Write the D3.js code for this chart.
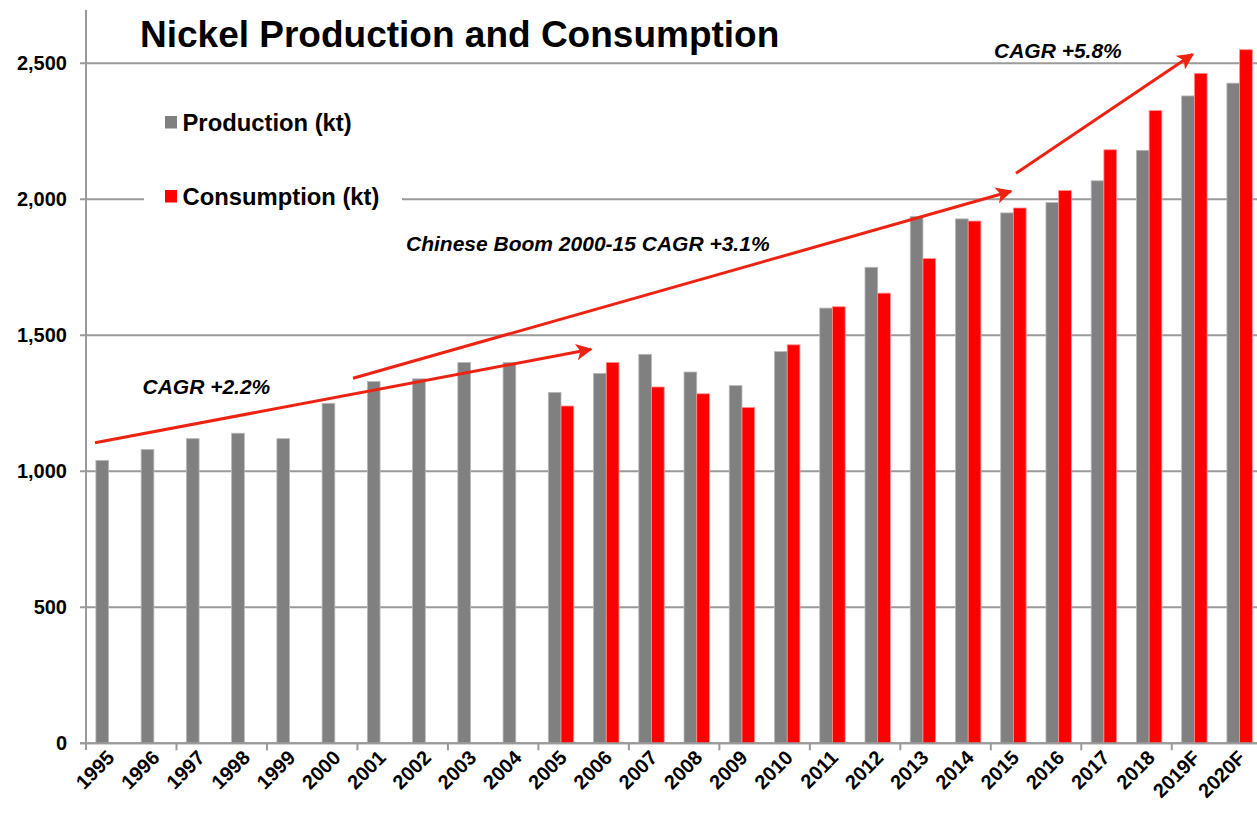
<!DOCTYPE html>
<html>
<head>
<meta charset="utf-8">
<script src="https://cdn.jsdelivr.net/npm/d3@7"></script>
<style>
  body { margin: 0; background: #fff; }
  svg { display: block; font-family: "Liberation Sans", Arial, sans-serif; }
</style>
</head>
<body>
<svg width="1257" height="813"></svg>
<script>
(function() {

var years = ["1995", "1996", "1997", "1998", "1999", "2000", "2001", "2002", "2003", "2004",
    "2005", "2006", "2007", "2008", "2009", "2010", "2011", "2012", "2013", "2014",
    "2015", "2016", "2017", "2018", "2019F", "2020F"];

var production = [1040, 1080, 1120, 1140, 1120, 1250, 1330, 1340, 1400, 1400,
    1290, 1360, 1430, 1365, 1315, 1440, 1600, 1750, 1937, 1928,
    1950, 1988, 2068, 2180, 2380, 2427];

var consumption = [null, null, null, null, null, null, null, null, null, null,
    1240, 1400, 1310, 1285, 1235, 1465, 1605, 1655, 1782, 1920,
    1968, 2032, 2182, 2326, 2463, 2550];

var yTicks = [0, 500, 1000, 1500, 2000, 2500];

var series = ["prod", "cons"];
var colors = {prod: "#808080", cons: "#ff0000"};
var strokes = {prod: "#b8b8b8", cons: "#ff9090"};

// trend arrows, pixel positions
var arrows = [
    {x1: 95, y1: 442.7, x2: 591, y2: 349.3},
    {x1: 353, y1: 378.3, x2: 1011, y2: 191.3},
    {x1: 1016, y1: 173.3, x2: 1192.7, y2: 54.3}
];

var svg = d3.select("svg");

var x = d3.scaleBand().domain(years).range([86, 86 + 26 * 45.24]).padding(0);
var x1 = d3.scaleBand().domain(series).range([0, x.bandwidth()]).paddingInner(0).paddingOuter(0.78);
var y = d3.scaleLinear().domain([0, 2500]).range([743.3, 63.3]);

// gridlines
svg.append("g").selectAll("line")
    .data(yTicks)
    .enter()
    .append("line")
    .attr("x1", 80)
    .attr("x2", 1257)
    .attr("y1", function(d) { return y(d); })
    .attr("y2", function(d) { return y(d); })
    .attr("stroke", "#9a9a9a")
    .attr("stroke-width", 2);

// y labels
svg.append("g").selectAll("text")
    .data(yTicks)
    .enter()
    .append("text")
    .attr("x", 67)
    .attr("y", function(d) { return y(d) + 7; })
    .attr("text-anchor", "end")
    .style("font-size", "20px")
    .style("font-weight", "bold")
    .text(function(d) { return d3.format(",")(d); });

// bars
var rows = years.map(function(yr, i) {
    return {year: yr, prod: production[i], cons: consumption[i]};
});

var groups = svg.append("g").selectAll("g")
    .data(rows)
    .enter()
    .append("g")
    .attr("transform", function(d) { return "translate(" + x(d.year) + ",0)"; });

groups.selectAll("rect")
    .data(function(d) {
        return series.filter(function(s) { return d[s] != null; })
            .map(function(s) { return {key: s, value: d[s]}; });
    })
    .enter()
    .append("rect")
    .attr("x", function(d) { return x1(d.key); })
    .attr("width", x1.bandwidth())
    .attr("y", function(d) { return y(d.value); })
    .attr("height", function(d) { return y(0) - y(d.value); })
    .attr("fill", function(d) { return colors[d.key]; })
    .attr("stroke", function(d) { return strokes[d.key]; })
    .attr("stroke-width", 0.8);

// axes lines
svg.append("line")
    .attr("x1", 86).attr("x2", 86)
    .attr("y1", 10).attr("y2", 750)
    .attr("stroke", "#9a9a9a").attr("stroke-width", 2);

svg.append("line")
    .attr("x1", 80).attr("x2", 1257)
    .attr("y1", y(0)).attr("y2", y(0))
    .attr("stroke", "#9a9a9a").attr("stroke-width", 2);

// x ticks every other category
svg.append("g").selectAll("line")
    .data(years.filter(function(d, i) { return i % 2 == 0 && i > 0; }))
    .enter()
    .append("line")
    .attr("x1", function(d) { return x(d); })
    .attr("x2", function(d) { return x(d); })
    .attr("y1", y(0))
    .attr("y2", y(0) + 7)
    .attr("stroke", "#9a9a9a")
    .attr("stroke-width", 2);

// x labels
svg.append("g").selectAll("text")
    .data(years)
    .enter()
    .append("text")
    .attr("transform", function(d) {
        return "translate(" + (x(d) + x.bandwidth() / 2 + 7) + "," + 759 + ") rotate(-45)";
    })
    .attr("text-anchor", "end")
    .style("font-size", "20px")
    .style("font-weight", "bold")
    .text(function(d) { return d; });

// legend
var legend = svg.append("g");
legend.append("rect")
    .attr("x", 144).attr("y", 95)
    .attr("width", 258).attr("height", 130)
    .attr("fill", "#fff");

var legendItems = [
    {key: "prod", label: "Production (kt)", y: 116},
    {key: "cons", label: "Consumption (kt)", y: 190}
];

legend.selectAll("g")
    .data(legendItems)
    .enter()
    .append("g")
    .each(function(d) {
        var g = d3.select(this);
        g.append("rect")
            .attr("x", 165).attr("y", d.y)
            .attr("width", 12).attr("height", 12.5)
            .attr("fill", colors[d.key]);
        g.append("text")
            .attr("x", 182.5)
            .attr("y", d.y + 14.5)
            .style("font-size", "23.8px")
            .style("font-weight", "bold")
            .text(d.label);
    });

// title
svg.append("text")
    .attr("x", 140)
    .attr("y", 46.5)
    .style("font-size", "37px")
    .style("font-weight", "bold")
    .text("Nickel Production and Consumption");

// arrows
var defs = svg.append("defs");
defs.append("marker")
    .attr("id", "head")
    .attr("viewBox", "0 0 10 10")
    .attr("refX", 9)
    .attr("refY", 5)
    .attr("markerWidth", 5.5)
    .attr("markerHeight", 5.5)
    .attr("markerUnits", "strokeWidth")
    .attr("orient", "auto")
    .append("path")
    .attr("d", "M0,0 L10,5 L0,10 L2.5,5 Z")
    .attr("fill", "#ee2211");

svg.append("g").selectAll("line")
    .data(arrows)
    .enter()
    .append("line")
    .attr("x1", function(d) { return d.x1; })
    .attr("y1", function(d) { return d.y1; })
    .attr("x2", function(d) { return d.x2; })
    .attr("y2", function(d) { return d.y2; })
    .attr("stroke", "#ee2211")
    .attr("stroke-width", 3)
    .attr("marker-end", "url(#head)");

// annotations
var notes = [
    {text: "CAGR +2.2%", x: 142.5, y: 394},
    {text: "Chinese Boom 2000-15 CAGR +3.1%", x: 406, y: 251},
    {text: "CAGR +5.8%", x: 994, y: 58}
];

svg.append("g").selectAll("text")
    .data(notes)
    .enter()
    .append("text")
    .attr("x", function(d) { return d.x; })
    .attr("y", function(d) { return d.y; })
    .style("font-size", "21px")
    .style("font-weight", "bold")
    .style("font-style", "italic")
    .text(function(d) { return d.text; });

})();
</script>
</body>
</html>
